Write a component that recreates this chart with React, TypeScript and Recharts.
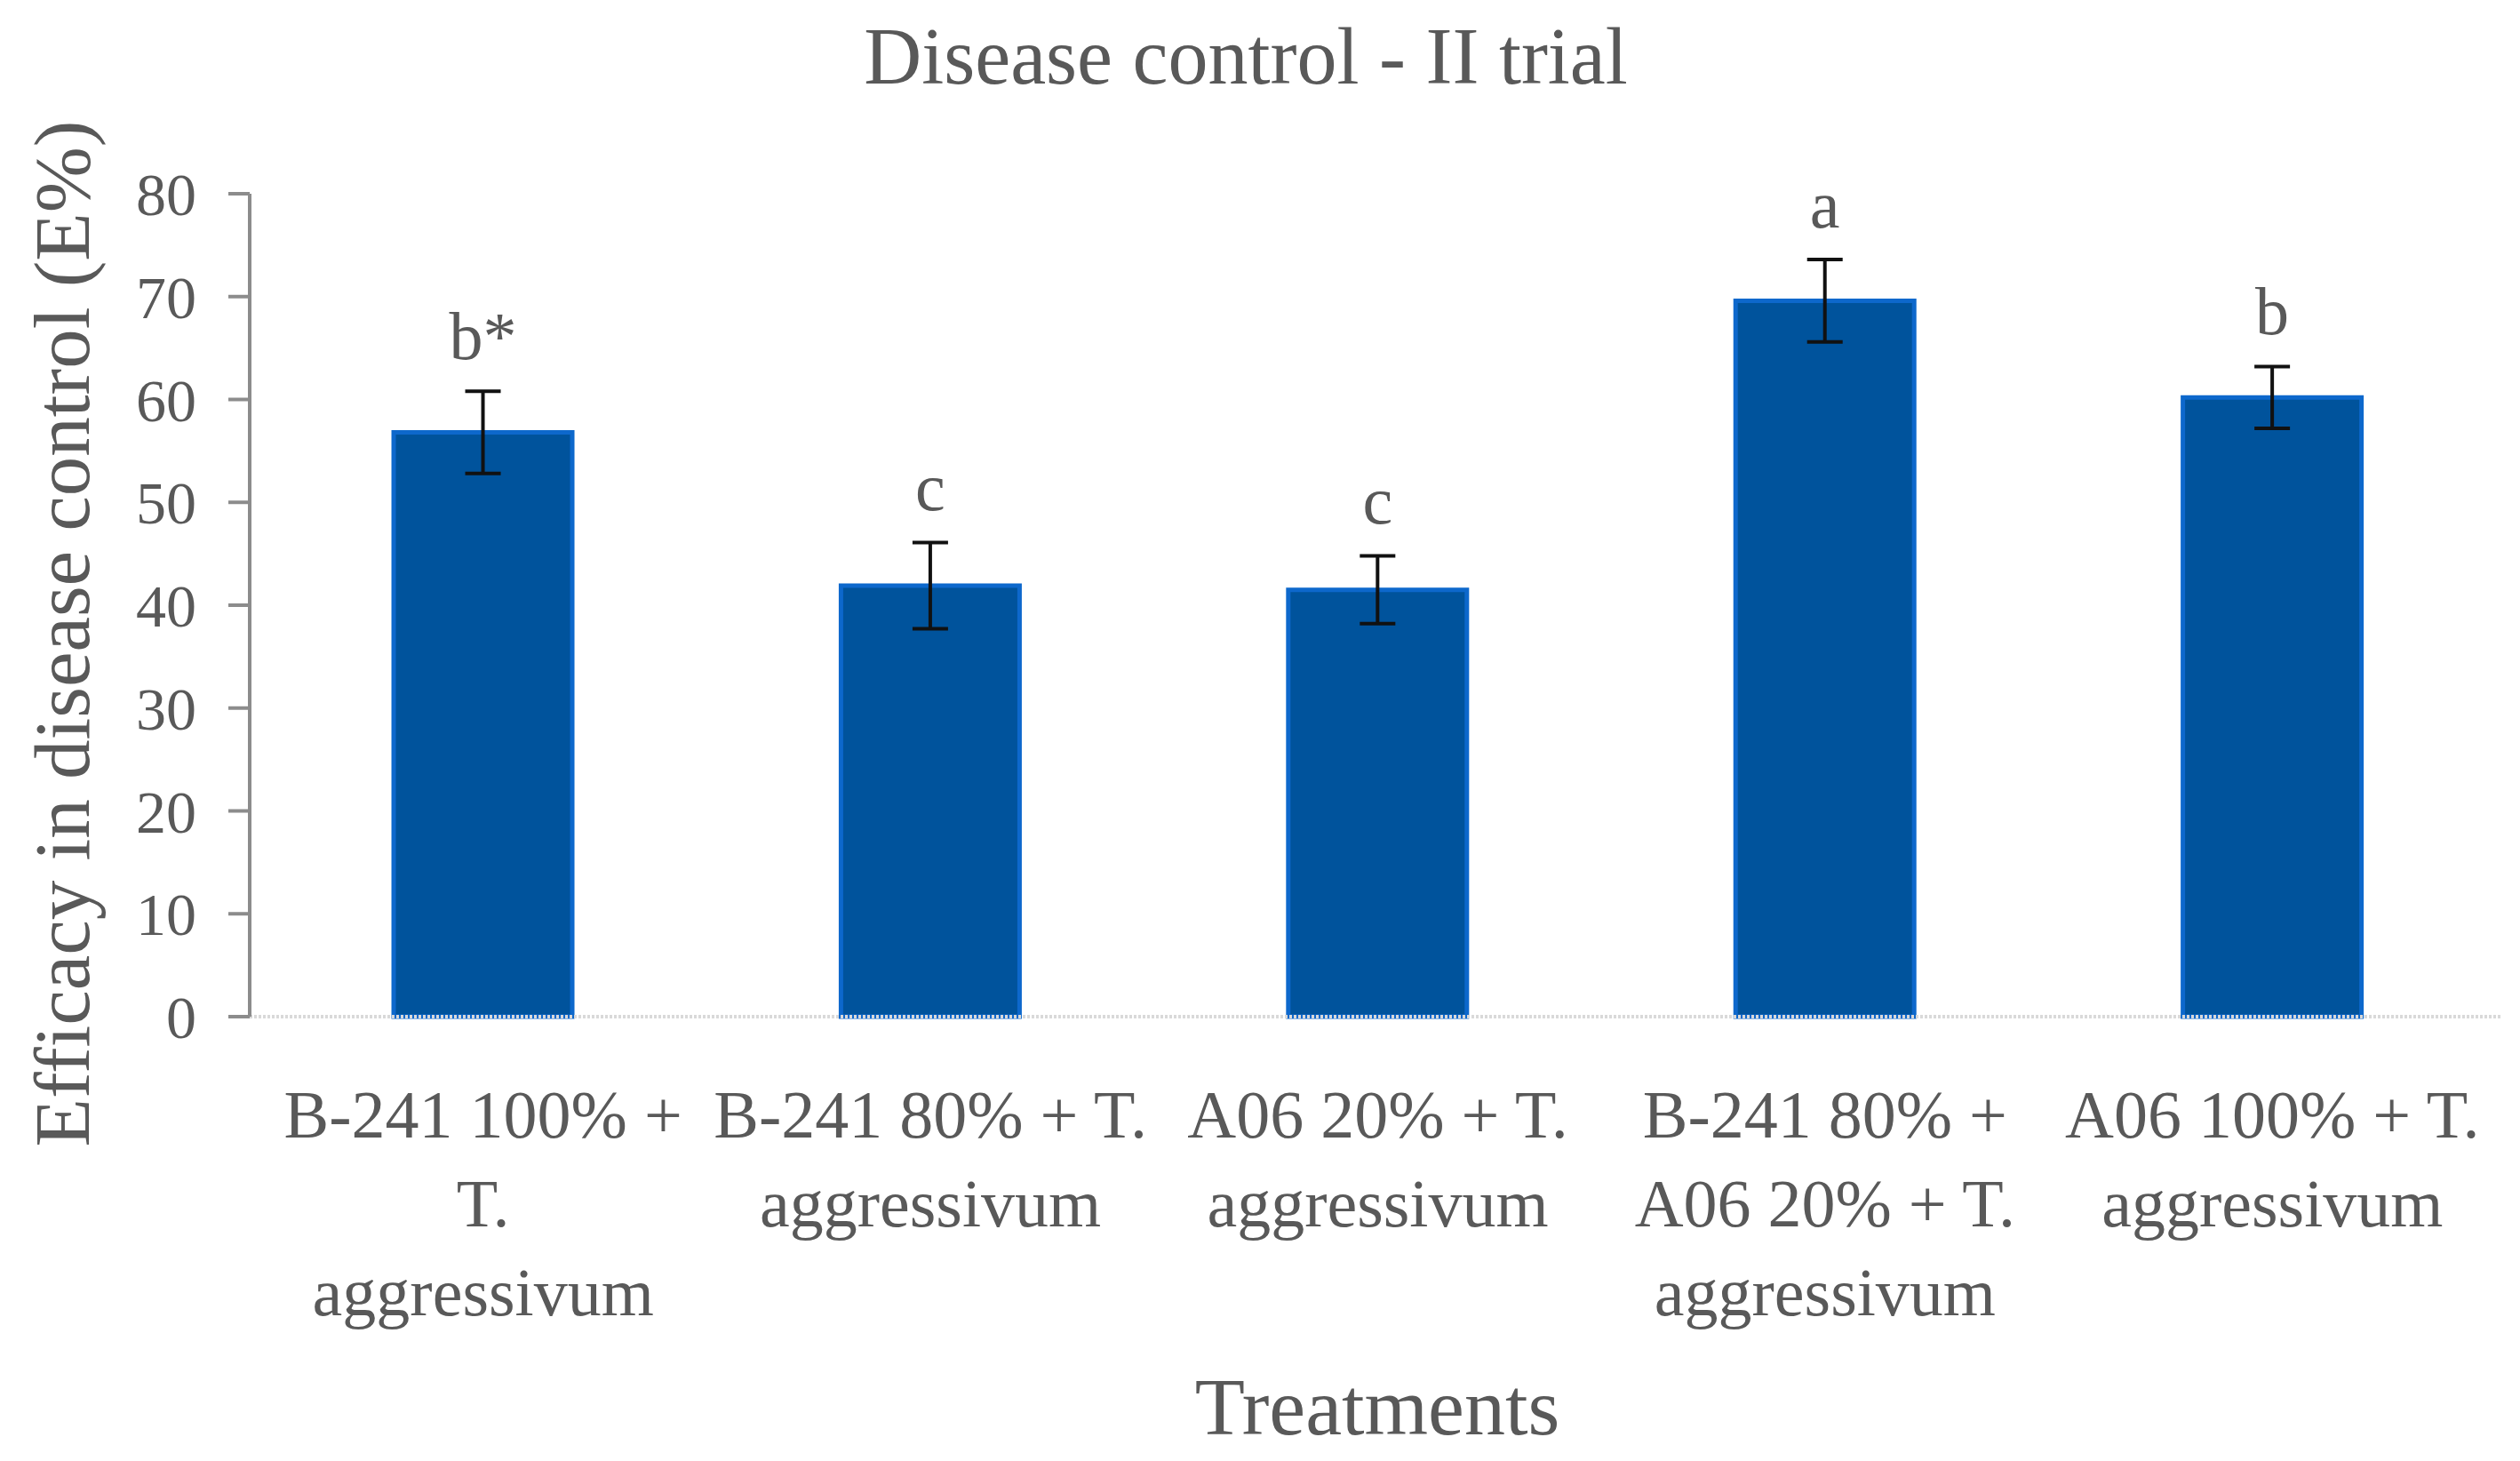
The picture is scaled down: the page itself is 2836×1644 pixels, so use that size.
import { BarChart, Bar, XAxis, YAxis, ErrorBar, LabelList } from 'recharts';

const categories = [
  'B-241 100% + T. aggressivum',
  'B-241 80% + T. aggressivum',
  'A06 20% + T. aggressivum',
  'B-241 80% + A06 20% + T. aggressivum',
  'A06 100% + T. aggressivum',
];

const tickLines = [
  ['B-241 100% +', 'T.', 'aggressivum'],
  ['B-241 80% + T.', 'aggressivum'],
  ['A06 20% + T.', 'aggressivum'],
  ['B-241 80% +', 'A06 20% + T.', 'aggressivum'],
  ['A06 100% + T.', 'aggressivum'],
];

const efficacy = [56.8, 41.9, 41.5, 69.6, 60.2];
const errors = [4.0, 4.2, 3.3, 4.0, 3.0];
const letters = ['b*', 'c', 'c', 'a', 'b'];
const yTicks = [0, 10, 20, 30, 40, 50, 60, 70, 80];

const FONT = '"Liberation Serif", serif';
const TEXT = '#595959';

const data = categories.map((name, i) => ({
  name,
  value: efficacy[i],
  err: errors[i],
  letter: letters[i],
}));

function CategoryTick(props: any) {
  const { x, y, index } = props;
  const lines = tickLines[index] || [];
  return (
    <text x={x} y={y} textAnchor="middle" fill={TEXT} fontSize={76} fontFamily={FONT}>
      {lines.map((line, i) => (
        <tspan key={i} x={x} y={y + 136 + i * 100}>
          {line}
        </tspan>
      ))}
    </text>
  );
}

// letter sits above the top of the error bar
const renderLetter = (props: any) => {
  const { x, y, width, height, index } = props;
  const row = data[index];
  if (!row) return null;
  const perUnit = height / row.value;
  const top = y - row.err * perUnit;
  return (
    <text
      x={x + width / 2}
      y={top - 36}
      textAnchor="middle"
      fill={TEXT}
      fontSize={76}
      fontFamily={FONT}
    >
      {row.letter}
    </text>
  );
};

export default function App() {
  return (
    <div style={{ position: 'absolute', left: 0, top: 0, background: '#fff' }}>
      <BarChart
        width={2836}
        height={1644}
        data={data}
        margin={{ top: 218, right: 20, bottom: 0, left: 0 }}
        barCategoryGap="30%"
      >
        <text x={1402} y={94} textAnchor="middle" fill={TEXT} fontSize={90} fontFamily={FONT}>
          Disease control - II trial
        </text>
        <text
          x={100}
          y={713}
          transform="rotate(-90, 100, 713)"
          textAnchor="middle"
          fill={TEXT}
          fontSize={89}
          fontFamily={FONT}
        >
          Efficacy in disease control (E%)
        </text>
        <text x={1550} y={1614} textAnchor="middle" fill={TEXT} fontSize={92} fontFamily={FONT}>
          Treatments
        </text>
        <XAxis
          dataKey="name"
          height={500}
          interval={0}
          padding={{ left: 11, right: 7 }}
          tickLine={false}
          tickSize={0}
          tickMargin={0}
          axisLine={{ stroke: '#d9d9d9', strokeWidth: 4, strokeDasharray: '3 2' }}
          tick={<CategoryTick />}
        />
        <YAxis
          width={281}
          domain={[0, 80]}
          ticks={yTicks}
          interval={0}
          tickSize={24}
          tickMargin={36}
          axisLine={{ stroke: '#8c8c8c', strokeWidth: 4 }}
          tickLine={{ stroke: '#8c8c8c', strokeWidth: 4 }}
          tick={{ fill: TEXT, fontSize: 68, fontFamily: FONT }}
        />
        <Bar
          dataKey="value"
          fill="#00539c"
          stroke="#0d68cc"
          strokeWidth={5}
          isAnimationActive={false}
        >
          <ErrorBar dataKey="err" direction="y" width={20} stroke="#111" strokeWidth={4} />
          <LabelList dataKey="letter" content={renderLetter} />
        </Bar>
      </BarChart>
    </div>
  );
}
